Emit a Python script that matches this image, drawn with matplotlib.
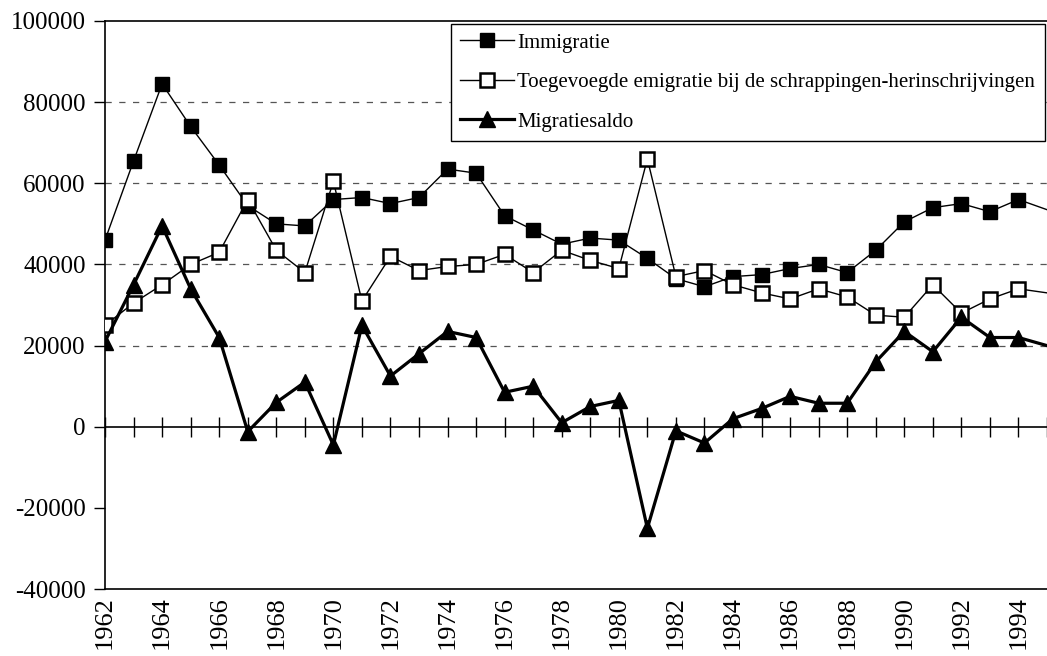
import matplotlib
matplotlib.use("Agg")
import matplotlib.pyplot as plt
import numpy as np

years = list(range(1962, 1996))
immigratie = [46000, 65500, 84500, 74000, 64500, 54500, 50000, 49500, 56000, 56500,
              55000, 56500, 63500, 62500, 52000, 48500, 45000, 46500, 46000, 41500,
              36500, 34500, 37000, 37500, 39000, 40000, 38000, 43500, 50500, 54000,
              55000, 53000, 56000, 53500]
emigratie = [25000, 30500, 35000, 40000, 43000, 56000, 43500, 38000, 60500, 31000,
             42000, 38500, 39500, 40000, 42500, 38000, 43500, 41000, 39000, 66000,
             37000, 38500, 35000, 33000, 31500, 34000, 32000, 27500, 27000, 35000,
             28000, 31500, 34000, 33000]
saldo = [21000, 35000, 49500, 34000, 22000, -1200, 6000, 11000, -4500, 25000,
         12500, 18000, 23500, 22000, 8500, 10000, 1000, 5000, 6500, -25000,
         -1000, -4000, 2000, 4500, 7500, 5800, 5800, 16000, 23500, 18500,
         27000, 22000, 22000, 20000]
labels = ["Immigratie",
          "Toegevoegde emigratie bij de schrappingen-herinschrijvingen",
          "Migratiesaldo"]
yticks = [-40000, -20000, 0, 20000, 40000, 60000, 80000, 100000]
xlabel_years = list(range(1962, 1995, 2))

plt.rcParams['font.family'] = ['Liberation Serif', 'DejaVu Serif']

fig = plt.figure(figsize=(10.47, 6.56), dpi=100)
ax = fig.add_axes([0.1003, 0.102, 0.8997, 0.866])

mk = list(range(len(years) - 1))
ax.plot(years, immigratie, color='black', lw=1.0, marker='s', ms=10,
        mfc='black', mec='black', markevery=mk, label=labels[0], zorder=3)
ax.plot(years, emigratie, color='black', lw=1.0, marker='s', ms=10,
        mfc='white', mec='black', mew=1.8, markevery=mk, label=labels[1], zorder=3)
ax.plot(years, saldo, color='black', lw=2.3, marker='^', ms=11.5,
        mfc='black', mec='black', markevery=mk, label=labels[2], zorder=4)

ax.set_xlim(1962, 1995)
ax.set_ylim(-40000, 100000)

ax.set_yticks(yticks)
ax.set_yticklabels([str(v) for v in yticks], fontsize=18)
ax.tick_params(axis='y', direction='out', length=8, width=1, pad=6)

ax.set_xticks(xlabel_years)
ax.set_xticklabels([str(y) for y in xlabel_years], rotation=90, fontsize=19)
ax.tick_params(axis='x', length=0, pad=5)

# dashed gridlines
ax.grid(axis='y', linestyle=(0, (5, 6)), color='#555555', lw=0.9)
for gl, v in zip(ax.yaxis.get_gridlines(), yticks):
    if v <= 0 or v >= 100000:
        gl.set_visible(False)

# zero axis with year ticks
ax.axhline(0, color='black', lw=1.2, zorder=2)
sec = ax.secondary_xaxis(40000 / 140000)
sec.set_xticks(years)
sec.tick_params(axis='x', direction='inout', length=14, width=1.0, labelbottom=False,
                labeltop=False, bottom=True, top=False)
for s in sec.spines.values():
    s.set_visible(False)

ax.spines['right'].set_visible(False)
for s in ['top', 'bottom', 'left']:
    ax.spines[s].set_color('black')
    ax.spines[s].set_linewidth(1.2)

leg = ax.legend(loc='upper left', bbox_to_anchor=(0.367, 0.995), fontsize=15,
                frameon=True, fancybox=False, edgecolor='black', framealpha=1,
                handlelength=2.6, labelspacing=0.95, borderpad=0.45,
                handletextpad=0.15, borderaxespad=0.0)
leg.get_frame().set_linewidth(1.0)

fig.savefig("out.png", dpi=100)
